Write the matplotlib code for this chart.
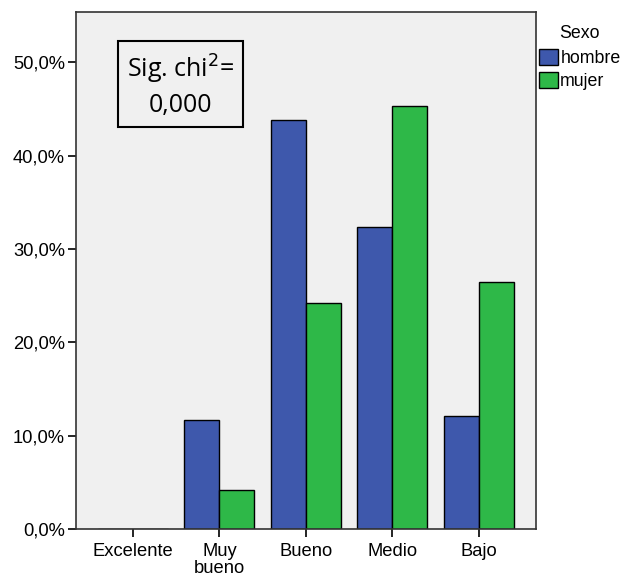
import matplotlib
matplotlib.use("Agg")
import matplotlib.pyplot as plt
import numpy as np
from matplotlib.ticker import FuncFormatter

categorias = ["Excelente", "Muy\nbueno", "Bueno", "Medio", "Bajo"]
hombre = [0.0, 11.7, 43.8, 32.4, 12.1]
mujer = [0.0, 4.2, 24.2, 45.3, 26.5]
series = ["hombre", "mujer"]
colores = ["#3e58ac", "#2eb848"]

plt.rcParams["font.family"] = ["Liberation Sans", "DejaVu Sans"]

fig = plt.figure(figsize=(6.23, 5.78), dpi=100)
ax = fig.add_axes([0.122, 0.0848, 0.738, 0.8945])
ax.set_facecolor("#f0f0f0")

x = np.arange(len(categorias))
w = 0.405
ax.bar(x - w / 2, hombre, w, color=colores[0], edgecolor="black", linewidth=1.0, label=series[0])
ax.bar(x + w / 2, mujer, w, color=colores[1], edgecolor="black", linewidth=1.0, label=series[1])

ax.set_xlim(-0.66, 4.66)
ax.set_ylim(0, 55.4)
ax.set_yticks([0, 10, 20, 30, 40, 50])
ax.yaxis.set_major_formatter(FuncFormatter(lambda v, p: ("%.1f%%" % v).replace(".", ",")))
ax.set_xticks(x)
ax.set_xticklabels(categorias, linespacing=1.02)
ax.tick_params(axis="both", labelsize=13.2, length=6, width=1.2, direction="out", colors="black")
ax.tick_params(axis="x", pad=4)
ax.tick_params(axis="y", pad=2)
for s in ax.spines.values():
    s.set_linewidth(1.2)
    s.set_color("#333333")

ax.text(0.228, 0.858, "Sig. chi$^{2}$=\n0,000", transform=ax.transAxes, ha="center", va="center",
        fontsize=18, family=["Open Sans", "DejaVu Sans"], linespacing=1.4,
        bbox=dict(boxstyle="square,pad=0.35", facecolor="#f0f0f0", edgecolor="black", linewidth=1.5))

leg = ax.legend(loc="upper left", bbox_to_anchor=(1.003, 0.978), frameon=False, fontsize=12.8,
                title="Sexo", title_fontsize=12.8, handlelength=1.05, handleheight=1.0,
                handletextpad=0.15, borderaxespad=0.0, borderpad=0.1, labelspacing=0.28)
leg._legend_box.sep = 5

fig.savefig("out.png", dpi=100)
